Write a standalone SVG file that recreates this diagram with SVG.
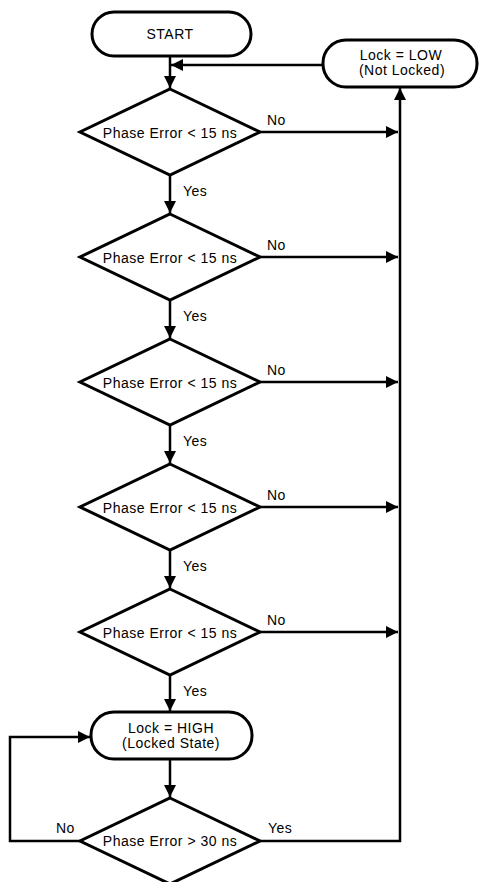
<svg xmlns="http://www.w3.org/2000/svg" width="480" height="882" viewBox="0 0 480 882">
<defs>
<style>
.shape{fill:#fff;stroke:#000;stroke-width:3;stroke-linejoin:miter}
.line{fill:none;stroke:#000;stroke-width:2.5}
text{font-family:"Liberation Sans",Arial,sans-serif;font-size:14px;letter-spacing:0.5px;fill:#000}
.c{text-anchor:middle}
</style>
<marker id="ah" markerUnits="userSpaceOnUse" markerWidth="12" markerHeight="12" viewBox="0 0 12 12" refX="12" refY="6" orient="auto">
<path d="M0,0 L12,6 L0,12 Z" fill="#000"/>
</marker>
</defs>
<rect width="480" height="882" fill="#fff"/>
<g id="connectors">
<path class="line" d="M170,56 V88" marker-end="url(#ah)"/>
<path class="line" d="M323,65 H171" marker-end="url(#ah)"/>
<path class="line" d="M260,132 H398" marker-end="url(#ah)"/>
<path class="line" d="M170,175 V213" marker-end="url(#ah)"/>
<path class="line" d="M260,257 H398" marker-end="url(#ah)"/>
<path class="line" d="M170,300 V338" marker-end="url(#ah)"/>
<path class="line" d="M260,382 H398" marker-end="url(#ah)"/>
<path class="line" d="M170,425 V463" marker-end="url(#ah)"/>
<path class="line" d="M260,507 H398" marker-end="url(#ah)"/>
<path class="line" d="M170,550 V588" marker-end="url(#ah)"/>
<path class="line" d="M260,632 H398" marker-end="url(#ah)"/>
<path class="line" d="M170,675 V711" marker-end="url(#ah)"/>
<path class="line" d="M170,759 V797" marker-end="url(#ah)"/>
<path class="line" d="M80,841 H10 V737 H90" marker-end="url(#ah)"/>
<path class="line" d="M260,841 H400 V88" marker-end="url(#ah)"/>
<text x="267" y="125">No</text>
<text x="183" y="196">Yes</text>
<text x="267" y="250">No</text>
<text x="183" y="321">Yes</text>
<text x="267" y="375">No</text>
<text x="183" y="446">Yes</text>
<text x="267" y="500">No</text>
<text x="183" y="571">Yes</text>
<text x="267" y="625">No</text>
<text x="183" y="696">Yes</text>
<text x="56" y="833">No</text>
<text x="268" y="833">Yes</text>
</g>
<g id="start">
<rect class="shape" x="92" y="12" width="159" height="44" rx="22" ry="22"/>
<text class="c" x="170" y="39">START</text>
</g>
<g id="lock-low">
<rect class="shape" x="323" y="40" width="154" height="47" rx="23" ry="23"/>
<text class="c" x="401" y="60">Lock = LOW</text>
<text class="c" x="402" y="75">(Not Locked)</text>
</g>
<g id="d1">
<polygon class="shape" points="170,89 260,132 170,175 80,132"/>
<text class="c" x="170" y="138">Phase Error &lt; 15 ns</text>
</g>
<g id="d2">
<polygon class="shape" points="170,214 260,257 170,300 80,257"/>
<text class="c" x="170" y="263">Phase Error &lt; 15 ns</text>
</g>
<g id="d3">
<polygon class="shape" points="170,339 260,382 170,425 80,382"/>
<text class="c" x="170" y="388">Phase Error &lt; 15 ns</text>
</g>
<g id="d4">
<polygon class="shape" points="170,464 260,507 170,550 80,507"/>
<text class="c" x="170" y="513">Phase Error &lt; 15 ns</text>
</g>
<g id="d5">
<polygon class="shape" points="170,589 260,632 170,675 80,632"/>
<text class="c" x="170" y="638">Phase Error &lt; 15 ns</text>
</g>
<g id="lock-high">
<rect class="shape" x="91" y="712" width="161" height="47" rx="23" ry="23"/>
<text class="c" x="171" y="733">Lock = HIGH</text>
<text class="c" x="171" y="748">(Locked State)</text>
</g>
<g id="d6">
<polygon class="shape" points="170,798 260,841 170,884 80,841"/>
<text class="c" x="170" y="846">Phase Error &gt; 30 ns</text>
</g>
</svg>
